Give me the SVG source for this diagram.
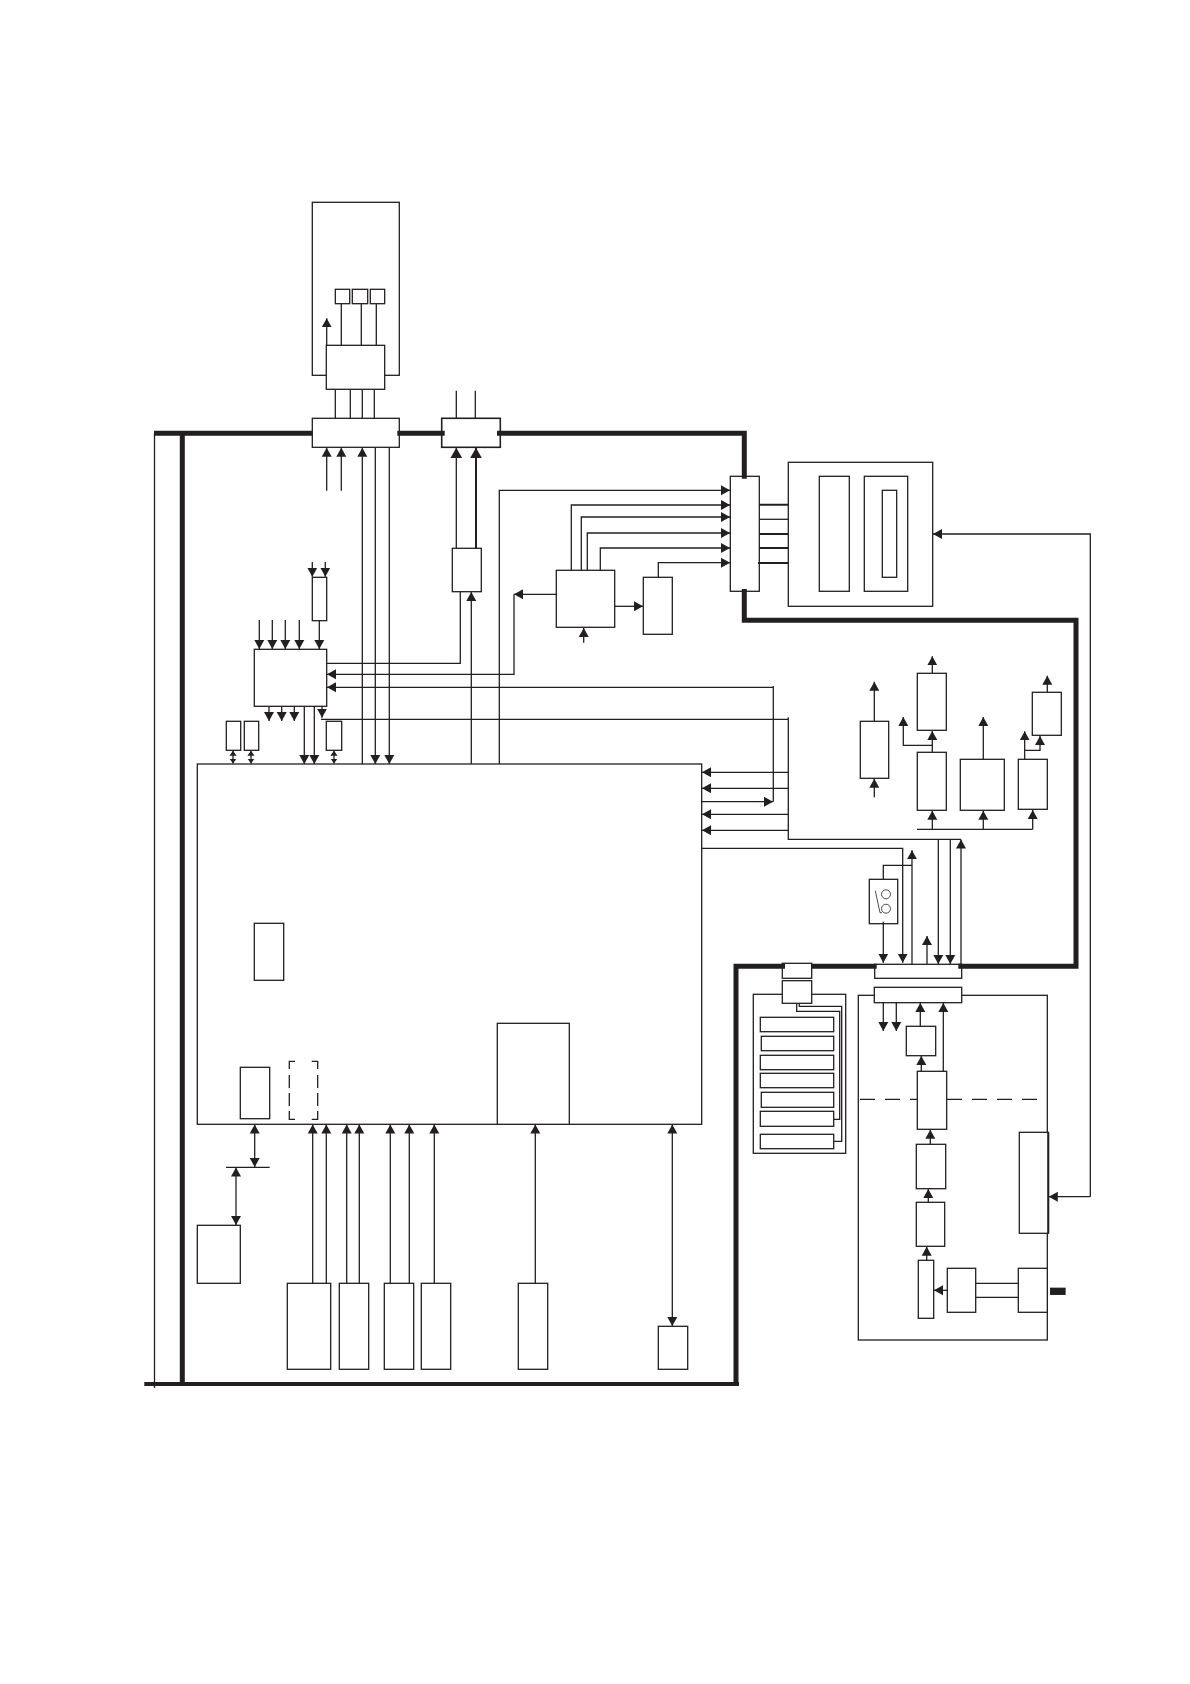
<svg xmlns="http://www.w3.org/2000/svg" width="1190" height="1684" viewBox="0 0 1190 1684">
<style>
rect{fill:#fff;stroke:#231f20;stroke-width:1.3}
path{fill:none;stroke:#231f20;stroke-width:1.3}
.a{marker-end:url(#a)}
.A{marker-end:url(#A)}
.d{marker-start:url(#a);marker-end:url(#a)}
.s{marker-start:url(#s);marker-end:url(#s)}
.b{stroke-width:5}
.t{stroke-width:2}
.dash2{stroke-dasharray:15 10}
</style>
<defs>
<marker id="a" markerUnits="userSpaceOnUse" markerWidth="11" markerHeight="11" refX="9" refY="5.5" orient="auto-start-reverse"><path d="M0,0.5L9,5.5L0,10.5Z" style="fill:#231f20;stroke:none"/></marker>
<marker id="A" markerUnits="userSpaceOnUse" markerWidth="12" markerHeight="13" refX="10.5" refY="6.5" orient="auto"><path d="M0,0.5L10.5,6.5L0,12.5Z" style="fill:#231f20;stroke:none"/></marker>
<marker id="s" markerUnits="userSpaceOnUse" markerWidth="6" markerHeight="8" refX="5" refY="4" orient="auto-start-reverse"><path d="M0,0.4L5,4L0,7.6Z" style="fill:#231f20;stroke:none"/></marker>
</defs>
<g id="nodes">
<g id="sensor-head"><rect x="312.3" y="202.3" width="87" height="173"/></g>
<g id="head-a"><rect x="335.3" y="289.3" width="14.4" height="14.4"/></g>
<g id="head-b"><rect x="352.3" y="289.3" width="15.4" height="14.4"/></g>
<g id="head-c"><rect x="370.3" y="289.3" width="14.4" height="14.4"/></g>
<g id="head-driver"><rect x="326.3" y="345.3" width="58.4" height="44"/></g>
<g id="connector-1"><rect x="312.3" y="418.3" width="87" height="29"/></g>
<g id="connector-2"><rect x="441.7" y="418.3" width="58.6" height="29" style="stroke-width:1.6"/></g>
<g id="regulator"><rect x="452.3" y="548.3" width="29" height="43.4"/></g>
<g id="small-top"><rect x="312.3" y="577.3" width="14.4" height="43.4"/></g>
<g id="control"><rect x="254.3" y="649.3" width="72.4" height="57"/></g>
<g id="mem-1"><rect x="226.3" y="721.3" width="14.4" height="29"/></g>
<g id="mem-2"><rect x="244.3" y="721.3" width="14.4" height="29"/></g>
<g id="mem-3"><rect x="326.3" y="721.3" width="15.4" height="29"/></g>
<g id="processor"><rect x="197.3" y="764" width="504.4" height="360.3"/></g>
<g id="inner-a"><rect x="254.3" y="923.3" width="29.4" height="57"/></g>
<g id="inner-b"><rect x="240.3" y="1067.3" width="29.4" height="51.4"/></g>
<g id="inner-dashed"><path d="M289.3,1069V1061.3H295M311.7,1061.3H317.7V1069M289.3,1075V1088M289.3,1093V1106M289.3,1111V1119.3H295M311.7,1119.3H317.7V1111M317.7,1075V1088M317.7,1093V1106"/></g>
<g id="inner-c"><rect x="497.3" y="1023.3" width="72" height="101"/></g>
<g id="host"><rect x="197.3" y="1225.3" width="43" height="58"/></g>
<g id="bottom-1"><rect x="287.3" y="1283.3" width="43.4" height="86"/></g>
<g id="bottom-2"><rect x="339.3" y="1283.3" width="29.4" height="86"/></g>
<g id="bottom-3"><rect x="384.3" y="1283.3" width="29.4" height="86"/></g>
<g id="bottom-4"><rect x="421.3" y="1283.3" width="29.4" height="86"/></g>
<g id="bottom-5"><rect x="518.3" y="1283.3" width="29.4" height="86"/></g>
<g id="bottom-6"><rect x="658.3" y="1326.3" width="29.4" height="43"/></g>
<g id="ctrl-mid"><rect x="556.3" y="570.3" width="58.4" height="57"/></g>
<g id="ctrl-right"><rect x="643.3" y="577.3" width="29" height="57"/></g>
<g id="junction"><rect x="730.3" y="476.3" width="29" height="115"/></g>
<g id="unit"><rect x="788.3" y="462.3" width="144.4" height="144"/></g>
<g id="unit-a"><rect x="819.3" y="476.3" width="30" height="115"/></g>
<g id="unit-b"><rect x="864.3" y="476.3" width="43.4" height="115"/></g>
<g id="unit-c"><rect x="882.3" y="490.3" width="14.4" height="87"/></g>
<g id="r1"><rect x="860.3" y="721.3" width="28.4" height="57"/></g>
<g id="r2"><rect x="917.3" y="673.3" width="29" height="57"/></g>
<g id="r3"><rect x="917.3" y="752.3" width="29" height="58"/></g>
<g id="r4"><rect x="960.3" y="759.3" width="44" height="51"/></g>
<g id="r5"><rect x="1018.3" y="759.3" width="29" height="50"/></g>
<g id="r6"><rect x="1032.3" y="692.3" width="29" height="43"/></g>
<g id="switch"><rect x="869.3" y="879.3" width="28.4" height="44.4"/>
<circle cx="886" cy="894.3" r="4.5" fill="none" stroke="#231f20" stroke-width="0.8"/>
<circle cx="886" cy="908.7" r="4.5" fill="none" stroke="#231f20" stroke-width="0.8"/>
<path d="M875.3,890.7L880,912.7H882" style="stroke-width:0.8"/></g>
<g id="conn-a"><rect x="782.3" y="963.3" width="29.4" height="15"/></g>
<g id="cells"><rect x="753.3" y="994.3" width="92.4" height="159"/></g>
<g id="conn-b"><rect x="782.3" y="980.7" width="29.4" height="22.6"/></g>
<g id="cell-1"><rect x="760.3" y="1017.3" width="73.4" height="14.4"/></g>
<g id="cell-2"><rect x="761.3" y="1036.3" width="72.4" height="14.4"/></g>
<g id="cell-3"><rect x="760.3" y="1055.3" width="73.4" height="14.4"/></g>
<g id="cell-4"><rect x="760.3" y="1073.3" width="73.4" height="14.4"/></g>
<g id="cell-5"><rect x="761.3" y="1092.3" width="72.4" height="15"/></g>
<g id="cell-6"><rect x="760.3" y="1111.3" width="73.4" height="15"/></g>
<g id="cell-7"><rect x="760.3" y="1134.3" width="73.4" height="14.4"/></g>
<g id="conn-c"><rect x="874.7" y="964.3" width="87" height="14"/></g>
<g id="panel"><rect x="858.3" y="995.3" width="189" height="344.7"/></g>
<g id="conn-d"><rect x="874.3" y="987.3" width="87.4" height="15.4"/></g>
<g id="p1"><rect x="906.3" y="1026.3" width="29.4" height="29.4"/></g>
<g id="p2"><rect x="917.3" y="1071.3" width="29.4" height="58"/></g>
<g id="p3"><rect x="916.3" y="1144.3" width="29.4" height="44.4"/></g>
<g id="p4"><rect x="916.3" y="1202.3" width="28.4" height="44"/></g>
<g id="p5"><rect x="918.3" y="1260.3" width="15.4" height="58"/></g>
<g id="p6"><rect x="947.3" y="1268.3" width="28.4" height="44"/></g>
<g id="p7"><rect x="1018.3" y="1268.3" width="29" height="44"/></g>
<g id="p8"><rect x="1019.3" y="1132.3" width="29" height="101"/><path class="t" d="M1048.3,1132.3V1233.3"/></g>
<g id="plug"><rect x="1050.7" y="1288.3" width="14.3" height="6" style="fill:#231f20"/></g>
</g>
<g id="connectors">
<path class="b" d="M154,433.3H312.3M397.3,433.3H444.7M497,433.3H746.8M744.3,433.3V478.7M744.3,589V620.3H1078.5M1076,620.3V968.8M1078.5,966.3H958.3M876.7,966.3H811M785,966.3H736V1386M182.3,433.3V1384"/>
<path style="stroke-width:4" d="M144.3,1384H739"/>
<path d="M154.5,433.3V1388"/>
<path d="M341.3,303.7V345.3M361.3,303.7V345.3M376.3,303.7V345.3M335.3,389.3V418.3M350.3,389.3V418.3M362.3,389.3V418.3M374.3,389.3V418.3M456.3,390.7V418.3M475.3,390.7V418.3"/>
<path class="a" d="M326.7,345.3V318.3"/>
<path class="a" d="M326.7,490.7V447.8"/>
<path class="a" d="M341.3,490.7V447.8"/>
<path class="a" d="M362.3,764V447.8"/>
<path class="a" d="M375.3,447.3V764"/>
<path class="a" d="M389.3,447.3V764"/>
<path class="A" d="M456.3,548.3V447.8"/>
<path class="A t" d="M476,548.3V447.8"/>
<path class="a" d="M312.3,562V576.7"/>
<path class="a" d="M325.3,562V576.7"/>
<path class="a" d="M319.3,620.7V649"/>
<path class="a" d="M259.3,620V649"/>
<path class="a" d="M272.3,620V649"/>
<path class="a" d="M285.3,620V649"/>
<path class="a" d="M299.3,620V649"/>
<path class="a" d="M269,706.3V721"/>
<path class="a" d="M281.7,706.3V721"/>
<path class="a" d="M294.3,706.3V721"/>
<path class="a" d="M322,706.3V717.7"/>
<path class="a" d="M304.3,706.3V764"/>
<path class="a" d="M314.3,706.3V764"/>
<path class="s" d="M233,750.8V763.5"/>
<path class="s" d="M251,750.8V763.5"/>
<path class="s" d="M334,750.8V763.5"/>
<path d="M326.7,663.3H460.3V591.7"/>
<path class="a" d="M471.3,764V592"/>
<path class="a" d="M556.3,594.3H514"/>
<path class="a" d="M514,594.3V674.3H327"/>
<path class="a" d="M773.3,687.3H327"/>
<path d="M773.3,686V801.7"/>
<path class="a" d="M701.7,801.7H773"/>
<path class="a" d="M499.3,764V490.3H730"/>
<path class="a" d="M571.3,570.3V505H730"/>
<path class="a" d="M581.3,570.3V517H730"/>
<path class="a" d="M587.3,570.3V533H730"/>
<path class="a" d="M600.3,570.3V548H730"/>
<path class="a" d="M658.3,577.3V562.7H730"/>
<path class="a" d="M614.7,606.3H643"/>
<path class="a" d="M583.7,642.7V628"/>
<path class="t" d="M759.3,504.7H788.3M759.3,534H788.3M759.3,548H788.3M758,563H788.3"/>
<path d="M759.3,519.3H788.3"/>
<path d="M321,719.3H788.3M788.3,717.3V839.3H961"/>
<path class="a" d="M788.3,772.3H702"/>
<path class="a" d="M788.3,788.3H702"/>
<path class="a" d="M788.3,814.3H702"/>
<path class="a" d="M788.3,830.3H702"/>
<path class="a" d="M961,964V839.6"/>
<path class="a" d="M938.3,839.3V964"/>
<path class="a" d="M950.3,839.3V964"/>
<path class="a" d="M701.7,848.3H902.7V962.7"/>
<path d="M883.3,879.3V865.3H912"/>
<path class="a" d="M912,965V850.3"/>
<path class="a" d="M883.3,921.7V962.7"/>
<path class="a" d="M927,964V936"/>
<path class="a" d="M874.3,721.3V681.7"/>
<path class="a" d="M874.3,797.3V778.8"/>
<path class="a" d="M932.3,673.3V656.3"/>
<path class="a" d="M932.3,752.3V731"/>
<path class="a" d="M932.3,745.3H903.3V717"/>
<path class="a" d="M983.3,759.3V717"/>
<path class="a" d="M1024.7,759.3V731.3"/>
<path class="a" d="M1024.7,750.3H1040V736"/>
<path class="a" d="M1047.3,692.3V675.7"/>
<path d="M917,829.3H1032.7"/>
<path class="a" d="M932.3,829.3V810.8"/>
<path class="a" d="M983.3,829.3V810.8"/>
<path class="a" d="M1032.7,829.3V810"/>
<path d="M796.7,1003.3V1011.3H839.7V1119.3H833.7M799.3,1003.3V1006.3H841.7V1141.3H833.7"/>
<path class="a" d="M883.3,1002.7V1031"/>
<path class="a" d="M896.3,1002.7V1031"/>
<path class="a" d="M920.3,1026.3V1003"/>
<path class="a" d="M921.3,1071.3V1056"/>
<path class="a" d="M943.3,1071.3V1003"/>
<path class="a" d="M930.3,1144.3V1129.8"/>
<path class="a" d="M928.3,1202.3V1189"/>
<path class="a" d="M926.7,1260.3V1246.8"/>
<path class="a" d="M947.3,1290.3H934"/>
<path d="M975.7,1283.3H1018.3M975.7,1297.3H1018.3"/>
<path class="dash2" d="M860,1099.3H917M947,1099.3H1047"/>
<path class="a" d="M1090.3,1196.7V534H933"/>
<path class="a" d="M1090.3,1196.7H1048.8"/>
<path d="M226,1167.3H269.7"/>
<path class="d" d="M254.7,1124.6V1167"/>
<path class="d" d="M236,1167.6V1225"/>
<path class="a" d="M312.7,1283.3V1124.6"/>
<path class="a" d="M326.3,1283.3V1124.6"/>
<path class="a" d="M346.7,1283.3V1124.6"/>
<path class="a" d="M359.3,1283.3V1124.6"/>
<path class="a" d="M390.3,1283.3V1124.6"/>
<path class="a" d="M409.3,1283.3V1124.6"/>
<path class="a" d="M434.3,1283.3V1124.6"/>
<path class="a" d="M535.3,1283.3V1124.6"/>
<path class="d" d="M672.3,1124.6V1326"/>
</g>
</svg>
